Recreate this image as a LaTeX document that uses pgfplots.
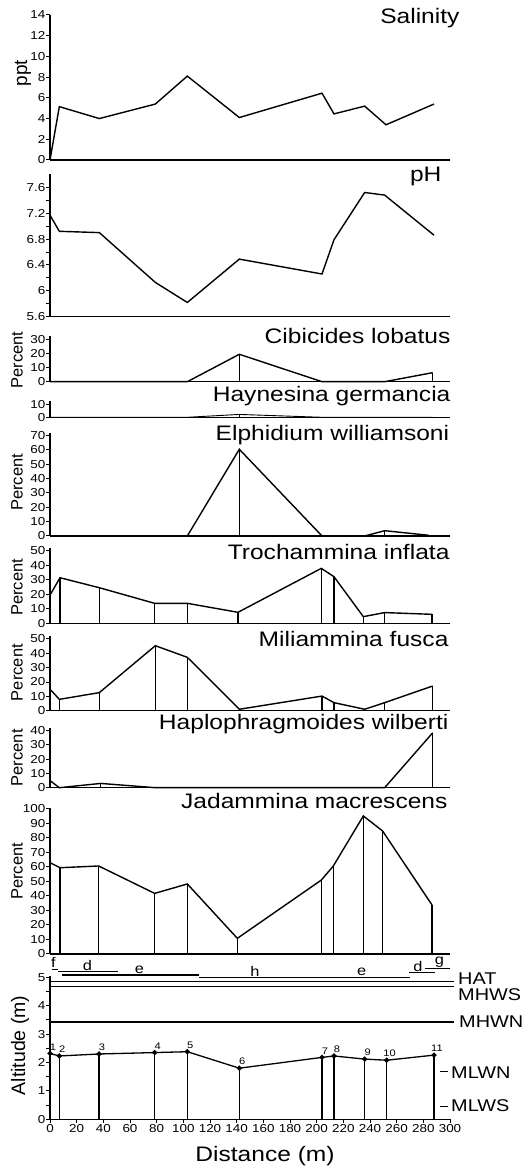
\documentclass[border=0pt]{standalone}
\usepackage{fontspec}
\setmainfont{Liberation Sans}[FakeStretch=1.17]
\newfontfamily\plainsans{Liberation Sans}
\usepackage{pgfplots}
\pgfplotsset{compat=1.18}
\newcommand\titlefont{\fontsize{21}{24}\selectfont}
\newcommand\tickfont{\fontsize{11.5}{12}\selectfont}
\newcommand\lblfont{\fontsize{17}{19}\selectfont}
\pgfplotsset{
 panel/.style={
   scale only axis, width=400pt, xmin=0, xmax=300, ymin=0,
   axis lines=left, axis line style={-, line width=1.5pt},
   xtick=\empty, tick align=outside, major tick length=3.5pt, minor tick length=3.5pt,
   tick style={black, line width=1pt},
   yticklabel style={font=\tickfont, inner sep=1pt},
   xticklabel style={font=\tickfont, inner sep=1pt},
   /pgf/number format/assume math mode=true,
   clip=false, anchor=south west,
   ylabel style={font=\plainsans\fontsize{16.5}{18}\selectfont, anchor=center},
 },
 dat/.style={black, line width=1.4pt, mark=none, sharp plot},
 drop/.style={black, line width=1.1pt, mark=none, ycomb},
}
\begin{document}
\begin{tikzpicture}[x=1pt,y=1pt]
\useasboundingbox (0,0) rectangle (530,1171);

% Salinity
\begin{axis}[panel, at={(50pt,1011pt)}, height=145pt, ymax=14, ytick={0,2,...,14},
  ylabel={ppt}, ylabel style={at={(axis description cs:-0.0675,0.6)}, font=\plainsans\fontsize{19}{20}\selectfont}]
\addplot[dat] coordinates {(0,0) (7,5.15) (37,4.0) (79,5.4) (103,8.1) (142,4.1) (204,6.45) (213,4.45) (236,5.2) (252,3.4) (288,5.4)};
\end{axis}
\node[anchor=base east, font=\titlefont] at (463,1147.5) {Salinity};

% pH
\begin{axis}[panel, at={(50pt,854.3pt)}, height=142.3pt, ymin=5.6, ymax=7.8,
  ytick={5.6,6,6.4,6.8,7.2,7.6}, minor ytick={5.8,6.2,6.6,7,7.4}]
\addplot[dat] coordinates {(0,7.17) (7,6.92) (37,6.9) (79,6.13) (103,5.82) (142,6.49) (204,6.26) (213,6.79) (236,7.52) (251,7.48) (288,6.86)};
\end{axis}
\node[anchor=base east, font=\titlefont] at (445,989.3) {pH};

% Cibicides lobatus
\begin{axis}[panel, at={(50pt,789.3pt)}, height=45.2pt, ymax=32, ytick={0,10,20,30},
  ylabel={Percent}, ylabel style={at={(axis description cs:-0.0825,0.48)}}]
\addplot[drop] coordinates {(0,0) (7,0) (37,0) (79,0) (103,0) (142,19.4) (204,0) (213,0) (236,0) (251,0) (287,6.4)};
\addplot[dat] coordinates {(0,0) (7,0) (37,0) (79,0) (103,0) (142,19.4) (204,0) (213,0) (236,0) (251,0) (287,6.4)};
\end{axis}
\node[anchor=base east, font=\titlefont] at (454,827.7) {Cibicides lobatus};

% Haynesina germancia
\begin{axis}[panel, at={(50pt,753.7pt)}, height=16.25pt, ymax=12.5, ytick={0,10}]
\addplot[drop] coordinates {(0,0) (7,0) (37,0) (79,0) (103,0) (142,2.2) (204,0) (213,0) (236,0) (251,0) (287,0)};
\addplot[dat, line width=0.9pt] coordinates {(0,0) (7,0) (37,0) (79,0) (103,0) (142,2.2) (204,0) (213,0) (236,0) (251,0) (287,0)};
\end{axis}
\node[anchor=base east, font=\titlefont] at (454,769.3) {Haynesina germancia};

% Elphidium williamsoni
\begin{axis}[panel, at={(50pt,635pt)}, height=103.2pt, ymax=72, ytick={0,10,...,70},
  ylabel={Percent}, ylabel style={at={(axis description cs:-0.0825,0.52)}}]
\addplot[drop] coordinates {(0,0) (7,0) (37,0) (79,0) (103,0) (142,60.5) (204,0) (213,0) (236,0) (251,3.7) (284,0.5)};
\addplot[dat] coordinates {(0,0) (7,0) (37,0) (79,0) (103,0) (142,60.5) (204,0) (213,0) (236,0) (251,3.7) (284,0.5)};
\end{axis}
\node[anchor=base east, font=\titlefont] at (452.7,730.3) {Elphidium williamsoni};

% Trochammina inflata
\begin{axis}[panel, at={(50pt,547.7pt)}, height=75.2pt, ymax=52, ytick={0,10,...,50},
  ylabel={Percent}, ylabel style={at={(axis description cs:-0.0825,0.477)}}]
\addplot[drop] coordinates {(0,19.5) (7.5,31.5) (37,24.6) (78.5,13.8) (103,13.8) (141,7.6) (203.5,38) (213,32.2) (235,4.6) (251,7.4) (286.5,6.2)};
\addplot[dat] coordinates {(0,19.5) (7.5,31.5) (37,24.6) (78.5,13.8) (103,13.8) (141,7.6) (203.5,38) (213,32.2) (235,4.6) (251,7.4) (286.5,6.2)};
\end{axis}
\node[anchor=base east, font=\titlefont] at (453,611.7) {Trochammina inflata};

% Miliammina fusca
\begin{axis}[panel, at={(50pt,460.3pt)}, height=74.6pt, ymax=52, ytick={0,10,...,50},
  ylabel={Percent}, ylabel style={at={(axis description cs:-0.0825,0.51)}}]
\addplot[drop] coordinates {(0,15) (7,7.9) (37,12.6) (79,45.3) (103,37.2) (142,1) (204,10.2) (213,5.6) (236,1) (251,5.6) (287,17.2)};
\addplot[dat] coordinates {(0,15) (7,7.9) (37,12.6) (79,45.3) (103,37.2) (142,1) (204,10.2) (213,5.6) (236,1) (251,5.6) (287,17.2)};
\end{axis}
\node[anchor=base east, font=\titlefont] at (452,524.3) {Miliammina fusca};

% Haplophragmoides wilberti
\begin{axis}[panel, at={(50pt,383.3pt)}, height=59.85pt, ymax=42, ytick={0,10,...,40},
  ylabel={Percent}, ylabel style={at={(axis description cs:-0.0825,0.5)}}]
\addplot[drop] coordinates {(0,5) (7,0) (38,3) (79,0) (103,0) (142,0) (204,0) (213,0) (236,0) (251,0) (287,38.5)};
\addplot[dat] coordinates {(0,5) (7,0) (38,3) (79,0) (103,0) (142,0) (204,0) (213,0) (236,0) (251,0) (287,38.5)};
\end{axis}
\node[anchor=base east, font=\titlefont] at (452,441.7) {Haplophragmoides wilberti};

% Jadammina macrescens
\begin{axis}[panel, at={(50pt,217pt)}, height=146.45pt, ymax=101, ytick={0,10,...,100},
  ylabel={Percent}, ylabel style={at={(axis description cs:-0.0825,0.565)}}]
\addplot[drop] coordinates {(0,63) (7.5,59.5) (36.5,60.7) (78.5,41.8) (103,48.3) (140.5,10.8) (203.5,51) (212.5,60.7) (235,95.2) (249.5,84.8) (286.5,33.8)};
\addplot[dat] coordinates {(0,63) (7.5,59.5) (36.5,60.7) (78.5,41.8) (103,48.3) (140.5,10.8) (203.5,51) (212.5,60.7) (235,95.2) (249.5,84.8) (286.5,33.8)};
\end{axis}
\node[anchor=base east, font=\titlefont] at (451,362.7) {Jadammina macrescens};

% Altitude
\begin{axis}[panel, at={(50pt,51.7pt)}, height=143.4pt, ymax=5.05,
  ytick={0,...,5}, minor ytick={0.5,1.5,...,4.5}, xtick={0,20,...,300},
  ylabel={Altitude (m)}, ylabel style={at={(axis description cs:-0.075,0.515)}, font=\plainsans\fontsize{19.5}{21}\selectfont}]
\addplot[drop] coordinates {(0,2.32) (7,2.23) (36.75,2.3) (78.5,2.35) (103,2.38) (142,1.8) (204,2.18) (213,2.23) (236,2.12) (252.5,2.08) (288,2.26)};
\addplot[black, line width=1.3pt, mark=*, mark size=1.9pt, mark options={fill=black},
  point meta=explicit symbolic, nodes near coords,
  nodes near coords style={font=\fontsize{9.5}{10}\selectfont, anchor=south, inner sep=0pt, xshift=3pt, yshift=2.5pt}]
  coordinates {(0,2.32)[1] (7,2.23)[2] (36.75,2.3)[3] (78.5,2.35)[4] (103,2.38)[5] (142,1.8)[6] (204,2.18)[7] (213,2.23)[8] (236,2.12)[9] (252.5,2.08)[10] (288,2.26)[11]};
% tidal levels
\addplot[black, line width=1.3pt] coordinates {(0,4.85) (303,4.85)};
\addplot[black, line width=1.3pt] coordinates {(0,4.67) (303,4.67)};
\addplot[black, line width=1.3pt] coordinates {(0,3.43) (303,3.43)};
\addplot[black, line width=1.3pt] coordinates {(292.5,1.69) (298.5,1.69)};
\addplot[black, line width=1.3pt] coordinates {(292.5,0.44) (298.5,0.44)};
% zones
\addplot[black, line width=1.4pt] coordinates {(1.3,5.28) (6.2,5.28)};
\addplot[black, line width=1.4pt] coordinates {(6.2,5.21) (51.2,5.21)};
\addplot[black, line width=1.4pt] coordinates {(8.8,5.08) (111.8,5.08)};
\addplot[black, line width=1.4pt] coordinates {(111.8,5.0) (192.5,5.0)};
\addplot[black, line width=1.4pt] coordinates {(192.5,5.0) (270,5.0)};
\addplot[black, line width=1.4pt] coordinates {(269.5,5.16) (288.7,5.16)};
\addplot[black, line width=1.4pt] coordinates {(281,5.32) (300,5.32)};
\node[anchor=base, font=\fontsize{14}{15}\selectfont, inner sep=0pt] at (axis cs:2.5,5.33) {f};
\node[anchor=base, font=\fontsize{14}{15}\selectfont, inner sep=0pt] at (axis cs:28,5.25) {d};
\node[anchor=base, font=\fontsize{14}{15}\selectfont, inner sep=0pt] at (axis cs:67,5.12) {e};
\node[anchor=base, font=\fontsize{14}{15}\selectfont, inner sep=0pt] at (axis cs:153.7,5.03) {h};
\node[anchor=base, font=\fontsize{14}{15}\selectfont, inner sep=0pt] at (axis cs:233.7,5.05) {e};
\node[anchor=base, font=\fontsize{14}{15}\selectfont, inner sep=0pt] at (axis cs:276,5.2) {d};
\node[anchor=base, font=\fontsize{14}{15}\selectfont, inner sep=0pt] at (axis cs:292,5.45) {g};
\end{axis}
\node[anchor=base west, font=\lblfont, inner sep=0pt] at (458,186) {HAT};
\node[anchor=base west, font=\lblfont, inner sep=0pt] at (458,170.3) {MHWS};
\node[anchor=base west, font=\lblfont, inner sep=0pt] at (459,143.7) {MHWN};
\node[anchor=base west, font=\lblfont, inner sep=0pt] at (451,92.7) {MLWN};
\node[anchor=base west, font=\lblfont, inner sep=0pt] at (451,59.3) {MLWS};
\node[anchor=base, font=\titlefont, inner sep=0pt] at (265,9.3) {Distance (m)};
\end{tikzpicture}
\end{document}
